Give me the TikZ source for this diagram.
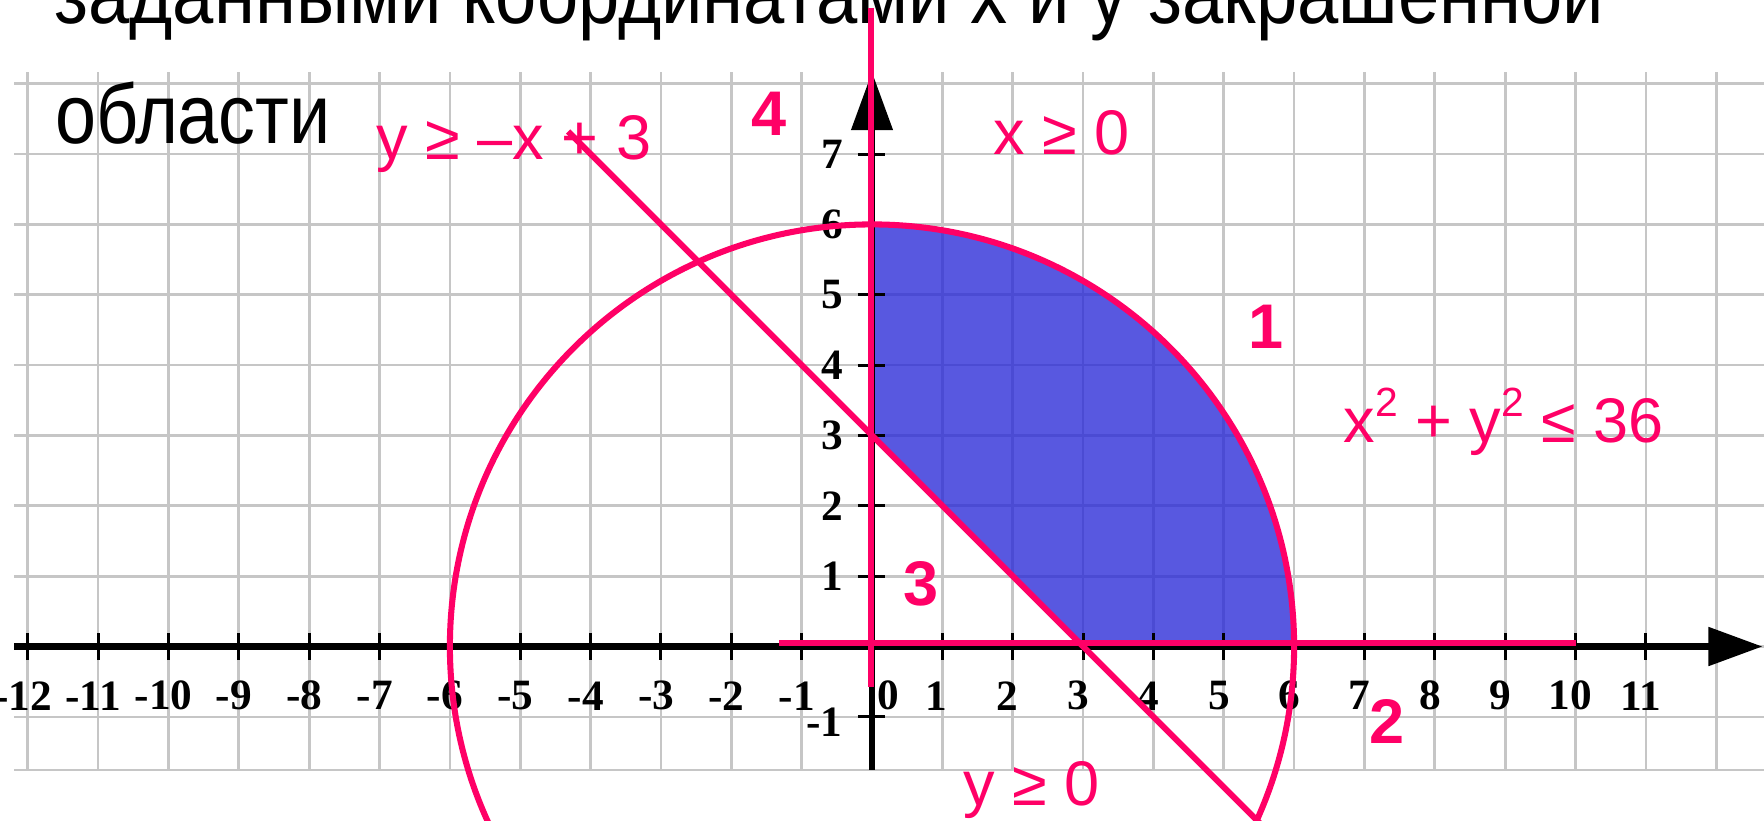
\documentclass[tikz,border=0pt]{standalone}
\usepackage{fontspec}
\usepackage{graphicx}
\setmainfont{Liberation Sans}
\newfontfamily\labfont{Liberation Serif}
\definecolor{pinkc}{RGB}{255,0,102}
\definecolor{gridc}{RGB}{198,198,198}
\definecolor{fillc}{RGB}{41,41,215}
\tikzset{
 gridline/.style={gridc, line width=1.1pt},
 axisline/.style={black, line width=2.8pt},
 tickline/.style={black, line width=1.2pt},
 pinkline/.style={pinkc, line width=2.45pt},
 axlab/.style={font=\labfont\bfseries\fontsize{17.5}{17.5}\selectfont, inner sep=0pt},
 pinklab/.style={pinkc, font=\fontsize{25.5}{25.5}\selectfont, inner sep=0pt, anchor=base west},
 numlab/.style={pinkc, font=\bfseries\fontsize{25.5}{25.5}\selectfont, inner sep=0pt},
 bigtext/.style={black, font=\fontsize{34}{34}\selectfont, inner sep=0pt, anchor=base west},
}
\newcommand{\supsq}{\raisebox{10.5pt}{\fontsize{16.5}{16.5}\selectfont 2}}
\begin{document}
\begin{tikzpicture}
\useasboundingbox (-12.395,-2.48) rectangle (12.679,9.19);
\clip (-12.395,-2.48) rectangle (12.679,9.19);
% grid
\foreach \i in {-12,...,12} \draw[gridline] (\i,-1.755) -- (\i,8.17);
\foreach \j in {-1,...,8} \draw[gridline] (-12.19,\j) -- (12.7,\j);
\draw[gridc, line width=0.6pt] (-12.19,-1.755) -- (12.7,-1.755);
% shaded region
\fill[fillc, opacity=0.78] (0,3) -- (0,6) arc[start angle=90, end angle=0, radius=6] -- (3,0) -- cycle;
% axes
\draw[axisline] (-12.19,0) -- (11.9,0);
\fill[black] (11.89,0.28) -- (12.65,0) -- (11.89,-0.28) -- cycle;
\draw[axisline] (0,-1.755) -- (0,7.36);
\fill[black] (-0.3,7.34) -- (0,8.16) -- (0.3,7.34) -- cycle;
\foreach \i in {-12,...,11} \draw[tickline] (\i,-0.19) -- (\i,0.19);
\foreach \j in {-1,1,2,3,4,5,6,7} \draw[tickline] (-0.2,\j) -- (0.19,\j);
% axis labels
\foreach \i in {-12,...,-1,2,3,4,5,6,7,8,9,10,11} \node[axlab] (xl\i) at (\i-0.07,-0.70) {\i};
\node[axlab] (xl0) at (0.23,-0.70) {0};
\node[axlab] (xl1) at (0.92,-0.70) {1};
\foreach \j in {1,...,7} \node[axlab] (yl\j) at (-0.57,\j) {\j};
\node[axlab] (ylm1) at (-0.68,-1.07) {-1};
% black text
\node[bigtext] (title) at (-11.63,8.86) {\resizebox{22.03cm}{\height}{заданными координатами x и y закрашенной}};
\node[bigtext] (title2) at (-11.62,7.15) {\resizebox{3.92cm}{\height}{области}};
% pink lines
\draw[pinkline] (0,0) circle[radius=6];
\draw[pinkline] (-4.32,7.32) -- (5.7,-2.7);
\draw[pinkline] (-0.02,-0.57) -- (-0.02,9.07);
\draw[pinkline] (-1.32,0.05) -- (10.0,0.05);
% pink labels
\node[pinklab] (l1) at (-7.05,6.92) {y ≥ –x + 3};
\node[pinklab] (l2) at (1.72,6.99) {x ≥ 0};
\node[pinklab] (l3) at (6.70,2.90) {x\supsq{} + y\supsq{} ≤ 36};
\node[pinklab] (l4) at (1.29,-2.253) {y ≥ 0};
\node[numlab] (n4) at (-1.46,7.57) {4};
\node[numlab] (n1) at (5.6,4.55) {1};
\node[numlab] (n3) at (0.70,0.89) {3};
\node[numlab] (n2) at (7.32,-1.06) {2};
\end{tikzpicture}
\end{document}
